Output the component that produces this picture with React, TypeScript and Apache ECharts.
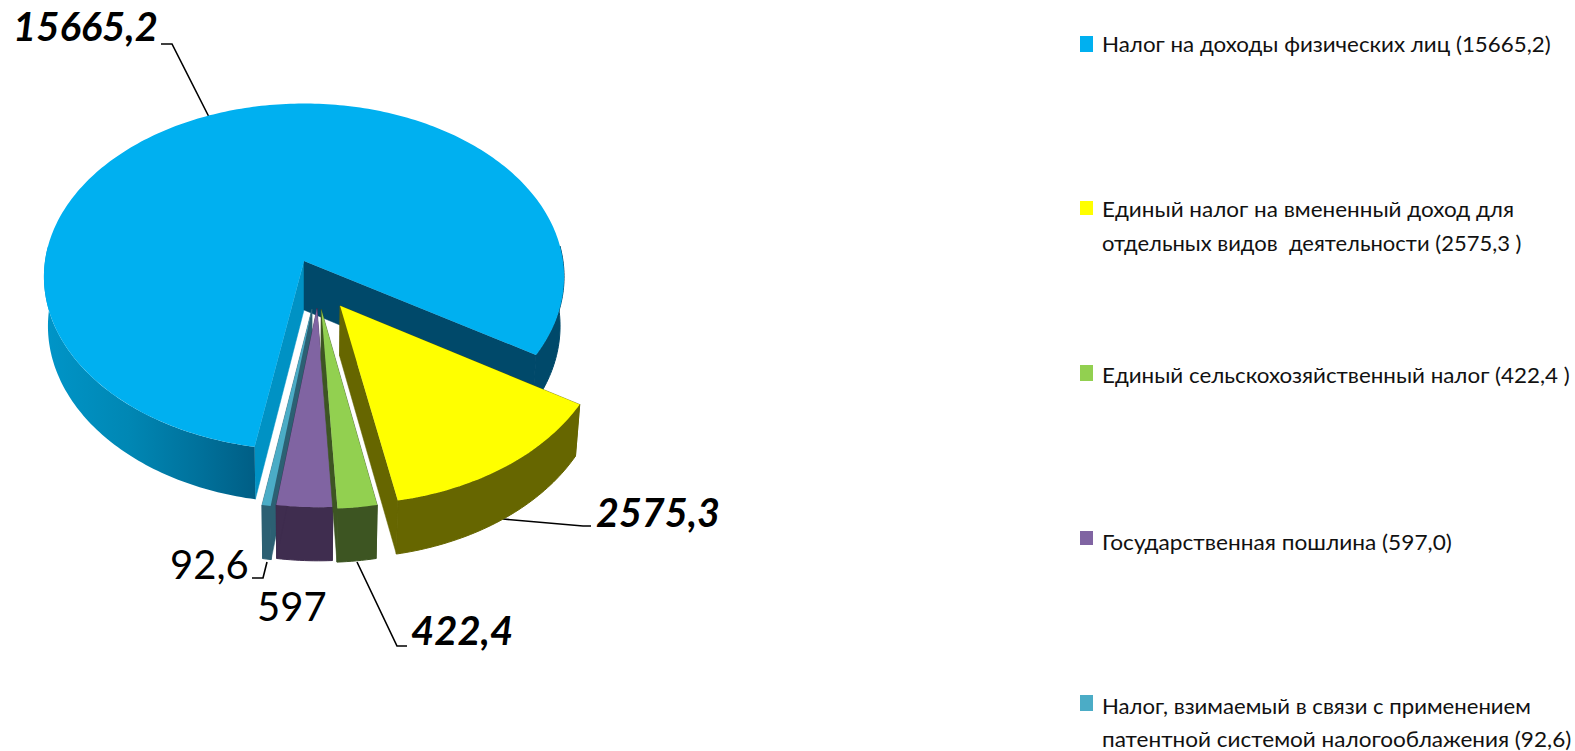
import React, { useEffect, useRef } from "react";
import * as echarts from "echarts";

const sliceNames = [
  "Налог на доходы физических лиц",
  "Единый налог на вмененный доход",
  "Единый сельскохозяйственный налог",
  "Государственная пошлина",
  "Патентная система налогообложения",
];
const sliceValues = [15665.2, 2575.3, 422.4, 597.0, 92.6];
const valueLabels = ["15665,2", "2575,3", "422,4", "597", "92,6"];
const topColors = ["#00B0F0", "#FFFF00", "#92D050", "#8064A2", "#4BACC6"];
const sideColors = ["#00496A", "#666600", "#3D5522", "#3F2D4F", "#2C6073"];
const legendLines = [
  ["Налог на доходы физических лиц (15665,2)"],
  ["Единый налог на вмененный доход для", "отдельных видов  деятельности (2575,3 )"],
  ["Единый сельскохозяйственный налог (422,4 )"],
  ["Государственная пошлина (597,0)"],
  ["Налог, взимаемый в связи с применением", "патентной системой налогооблажения (92,6)"],
];

// Layout of the perspective pie
const FIRST_ANGLE = 190;
const explode: number[][] = [[0, 0], [0.136, 0.255], [0.065, 0.275], [0.049, 0.268], [0.03, 0.273]];
const paintOrder = [0, 4, 3, 2, 1];
const CX = 304, K = 0.0909;
const R = 259, A = 171.8, Y0 = 261;
const RB = 255, AB = 175, Y0B = 310;
// Outside this range of angles the big slice's rim lies behind its own top.
const RIM_LEFT_END = 275;
const RIM_RIGHT_START = 85;

const FONT = 'Lato, Carlito, "Noto Sans", sans-serif';

const project = (deg: number, r: number, off: number[], bottom: boolean) => {
  const t = (deg * Math.PI) / 180;
  const u = off[0] + r * Math.sin(t);
  const v = off[1] - r * Math.cos(t);
  const w = 1 - K * v;
  return bottom
    ? [CX + (RB * u) / w, Y0B + (AB * v) / w]
    : [CX + (R * u) / w, Y0 + (A * v) / w];
};

const arc = (a0: number, a1: number, off: number[], bottom: boolean) => {
  const n = Math.max(2, Math.ceil(a1 - a0));
  const pts: number[][] = [];
  for (let i = 0; i <= n; i++) pts.push(project(a0 + ((a1 - a0) * i) / n, 1, off, bottom));
  return pts;
};

const renderItem = (params: any, api: any) => {
  const i = params.dataIndex;
  const total = sliceValues.reduce((s, x) => s + x, 0);
  let a0 = FIRST_ANGLE;
  for (let j = 0; j < i; j++) a0 += (sliceValues[j] / total) * 360;
  const a1 = a0 + (api.value(0) / total) * 360;
  const off = explode[i];
  const z = paintOrder.indexOf(i) * 10;

  const topArc = arc(a0, a1, off, false);
  const botArc = arc(a0, a1, off, true);
  const apexT = project(0, 0, off, false);
  const apexB = project(0, 0, off, true);

  const face = (t: number[], b: number[], fill: any, zz: number) => ({
    type: "polygon",
    z2: zz,
    shape: { points: [apexT, t, b, apexB] },
    style: { fill, stroke: fill, lineWidth: 0.5 },
  });
  const rim = (from: number, to: number, fill: any, edge?: string) => ({
    type: "polygon",
    z2: z + 2,
    shape: { points: [...arc(from, to, off, false), ...arc(from, to, off, true).reverse()] },
    style: { fill, stroke: edge, lineWidth: 1 },
  });

  // The big slice turns its left side to the light and its right side away from it.
  const rims =
    i === 0
      ? [
          rim(a0, RIM_LEFT_END, new echarts.graphic.LinearGradient(1, 0, 0, 0, [
            { offset: 0, color: "#005E85" },
            { offset: 0.25, color: "#00709A" },
            { offset: 0.6, color: "#0087B4" },
            { offset: 1, color: "#0095C8" },
          ])),
          rim(360 + RIM_RIGHT_START, a1, sideColors[0], sideColors[0]),
        ]
      : [rim(a0, a1, sideColors[i], sideColors[i])];

  const children: any[] = [
    face(topArc[0], botArc[0], i === 0 ? "#0092C4" : sideColors[i], z + 1),
    ...rims,
    face(topArc[topArc.length - 1], botArc[botArc.length - 1], sideColors[i], z + 2),
    {
      type: "polygon",
      z2: z + 3,
      shape: { points: [apexT, ...topArc] },
      style: { fill: topColors[i] },
    },
  ];
  return { type: "group", children };
};

const legendMarks = [
  { y: 36, h: 16 }, { y: 201, h: 14 }, { y: 365, h: 16 }, { y: 531, h: 14 }, { y: 695, h: 16 },
];
const legendLineY = [[43.5], [208.5, 242.5], [374.5], [541.5], [705.5, 738.5]];
const legendStretch = [[1.016], [1.022, 1.0], [1.017], [1.03], [1.007, 1.026]];

const labelStyles = [
  { x: 13, y: 26, size: 40, bold: true },
  { x: 596, y: 511, size: 39.5, bold: true },
  { x: 411, y: 630, size: 40, bold: true },
  { x: 257, y: 606, size: 40, bold: false },
  { x: 170, y: 564, size: 40, bold: false },
];
const leaders = [
  [[161, 44], [172, 44], [209, 117]],
  [[503, 519], [583, 526], [591, 526]],
  [[357, 562], [397, 646], [407, 646]],
  [[267, 562], [263, 578], [252, 578]],
];

export default function App() {
  const ref = useRef<HTMLDivElement>(null);
  useEffect(() => {
    const chart = echarts.init(ref.current!, undefined, { renderer: "svg" });
    const graphics: any[] = [];
    legendLines.forEach((lines, i) => {
      graphics.push({
        type: "rect",
        shape: { x: 1080, y: legendMarks[i].y, width: 13, height: legendMarks[i].h },
        style: { fill: topColors[i] },
      });
      lines.forEach((text, j) =>
        graphics.push({
          type: "text",
          x: 1102,
          y: legendLineY[i][j],
          scaleX: legendStretch[i][j],
          style: { text, fontFamily: FONT, fontSize: 22, fill: "#111", verticalAlign: "middle" },
        })
      );
    });
    valueLabels.forEach((text, i) => {
      const s = labelStyles[i];
      graphics.push({
        type: "text",
        x: s.x,
        y: s.y,
        style: {
          text,
          fontFamily: FONT,
          fontSize: s.size,
          fontWeight: s.bold ? "bold" : "normal",
          fontStyle: s.bold ? "italic" : "normal",
          fill: "#000",
          verticalAlign: "middle",
        },
      });
    });
    leaders.forEach((points) =>
      graphics.push({
        type: "polyline",
        shape: { points },
        style: { stroke: "#000", lineWidth: 1.6, fill: "none" },
      })
    );
    chart.setOption({
      animation: false,
      backgroundColor: "#fff",
      series: [
        {
          type: "custom",
          coordinateSystem: "none",
          silent: true,
          renderItem,
          data: sliceValues.map((value, i) => ({ name: sliceNames[i], value: [value] })),
        },
      ],
      graphic: graphics,
    });
    return () => chart.dispose();
  }, []);
  return <div ref={ref} style={{ position: "fixed", left: 0, top: 0, width: 1575, height: 751 }} />;
}
